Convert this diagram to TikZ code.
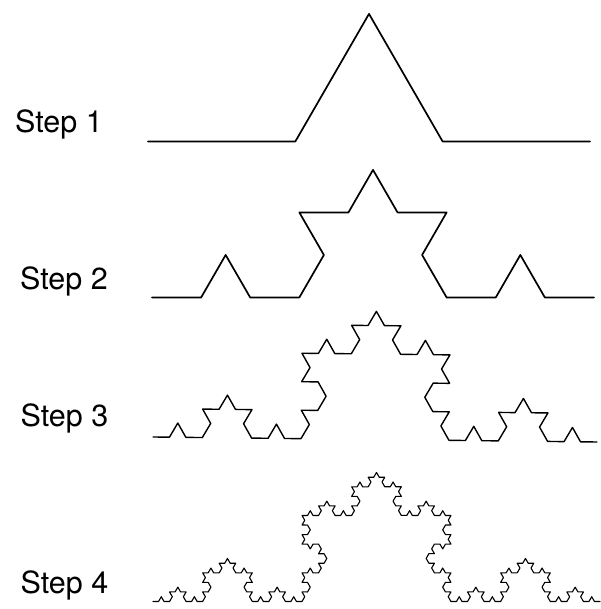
\documentclass[tikz,border=0pt]{standalone}
\usepackage{fontspec}
\setmainfont{TeX Gyre Heros}
\usetikzlibrary{decorations.fractals}
\begin{document}
\begin{tikzpicture}[x=1pt,y=1pt,
  steplabel/.style={anchor=base west,inner sep=0pt,font=\fontsize{30.5}{36}\selectfont},
  koch/.style={line join=round,line cap=round,decoration=Koch snowflake}]
\useasboundingbox (0,0) rectangle (600,609);
% labels
\node[steplabel] (l1) at (15,{609-132.7}) {Step 1};
\node[steplabel] (l2) at (20,{609-289.5}) {Step 2};
\node[steplabel] (l3) at (20.5,{609-427}) {Step 3};
\node[steplabel] (l4) at (20.5,{609-593.3}) {Step 4};
% end points
\coordinate (a1) at (148,{609-141.5});
\coordinate (b1) at (590,{609-141.5});
\coordinate (a2) at (152,{609-297.5});
\coordinate (b2) at (594,{609-297.5});
\coordinate (a3) at (153,{609-437});
\coordinate (b3) at (597,{609-442});
\coordinate (a4) at (153,{609-601.5});
\coordinate (b4) at (600,{609-601.5});
% curves
\draw[koch,line width=1.7pt] decorate{ (a1) -- (b1) };
\draw[koch,line width=1.7pt] decorate{ decorate{ (a2) -- (b2) } };
\draw[koch,line width=1.4pt] decorate{ decorate{ decorate{ (a3) -- (b3) } } };
\draw[koch,line width=1.1pt] decorate{ decorate{ decorate{ decorate{ (a4) -- (b4) } } } };
\end{tikzpicture}
\end{document}
